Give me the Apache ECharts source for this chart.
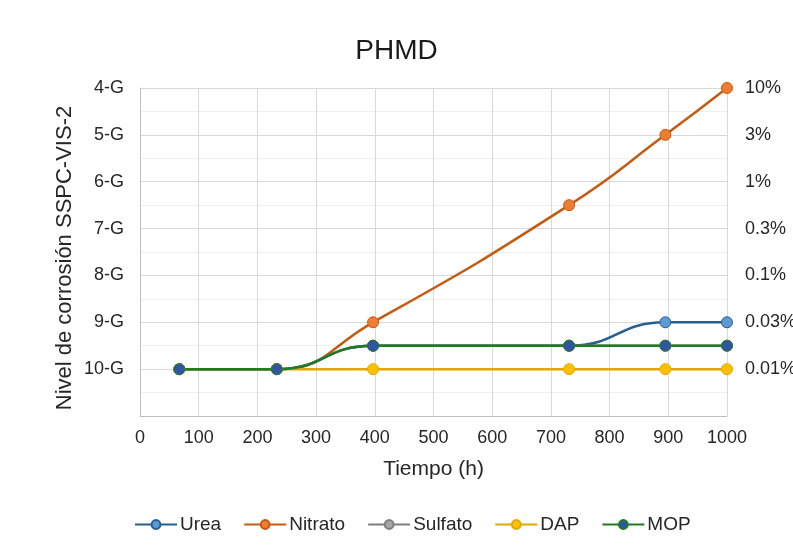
<!DOCTYPE html>
<html><head><meta charset="utf-8">
<script src="https://cdn.jsdelivr.net/npm/echarts@6/dist/echarts.min.js"></script>
<style>html,body{margin:0;padding:0;background:#fff}#c{width:793px;height:547px}</style>
</head><body><div id="c"></div>
<script>
const hours = [67, 233, 397, 731, 895, 1000];
const urea = [10, 10, 9.5, 9.5, 9, 9];
const nitrato = [10, 10, 9, 6.5, 5, 4];
const sulfato = [10, 10, 9.5, 9.5, 9.5, 9.5];
const dap = [10, 10, 10, 10, 10, 10];
const mop = [10, 10, 9.5, 9.5, 9.5, 9.5];
const gradeLabels = ['4-G','5-G','6-G','7-G','8-G','9-G','10-G',''];
const pctLabels = ['10%','3%','1%','0.3%','0.1%','0.03%','0.01%',''];
const xTicks = [0,100,200,300,400,500,600,700,800,900,1000];

const FONT = 'Liberation Sans, Arial, sans-serif';
function mk(name, vals, line, fill){
  return {
    name, type:'line', smooth:0.5,
    data: hours.map((h,i)=>[h, vals[i]]),
    symbol:'circle', symbolSize:11,
    lineStyle:{color:line, width:2.5},
    itemStyle:{color:fill, borderColor:line, borderWidth:1},
    emphasis:{disabled:true}
  };
}
const chart = echarts.init(document.getElementById('c'), null, {renderer:'canvas'});
chart.setOption({
  animation:false,
  backgroundColor:'#fff',
  textStyle:{fontFamily:FONT},
  title:{text:'PHMD', left:'center', top:32, textStyle:{fontFamily:FONT, fontSize:28, fontWeight:'normal', color:'#1a1a1a'}},
  legend:{top:510, left:129, itemWidth:42, itemHeight:11, itemGap:22,
    textStyle:{fontFamily:FONT, fontSize:19, color:'#262626', padding:[0,0,0,-2]}},
  grid:{left:140, right:66, top:88, bottom:131, outerBoundsMode:'none', containLabel:false},
  xAxis:{type:'value', min:xTicks[0], max:xTicks[xTicks.length-1], interval:100,
    name:'Tiempo (h)', nameLocation:'middle', nameGap:43, nameMoveOverlap:false,
    nameTextStyle:{fontFamily:FONT, fontSize:21, color:'#262626'},
    axisLine:{show:true, lineStyle:{color:'#bfbfbf'}}, axisTick:{show:false},
    axisLabel:{fontFamily:FONT, fontSize:18, color:'#262626', margin:13, formatter:v=>String(v)},
    splitLine:{show:true, lineStyle:{color:'#d9d9d9'}}},
  yAxis:[{type:'value', min:4, max:11, interval:1, inverse:true,
    name:'Nivel de corrosión SSPC-VIS-2', nameLocation:'middle', nameGap:64, nameMoveOverlap:false,
    nameTextStyle:{fontFamily:FONT, fontSize:22, color:'#262626', padding:[0,12,0,0]},
    axisLine:{show:true, lineStyle:{color:'#bfbfbf'}}, axisTick:{show:false},
    axisLabel:{fontFamily:FONT, fontSize:18, color:'#262626', margin:16, formatter:v=>gradeLabels[Math.round(v-4)]},
    splitLine:{show:true, lineStyle:{color:'#d9d9d9'}},
    minorTick:{show:false, splitNumber:2},
    minorSplitLine:{show:true, lineStyle:{color:'#eeeeee'}}},
   {type:'value', min:4, max:11, interval:1, inverse:true, position:'right',
    axisLine:{show:false}, axisTick:{show:false}, splitLine:{show:false},
    axisLabel:{fontFamily:FONT, fontSize:18, color:'#262626', margin:18, formatter:v=>pctLabels[Math.round(v-4)]}}],
  series:[
    mk('Urea', urea, '#255E91', '#5B9BD5'),
    mk('Nitrato', nitrato, '#C55A11', '#ED7D31'),
    mk('Sulfato', sulfato, '#7F7F7F', '#A5A5A5'),
    mk('DAP', dap, '#E0A800', '#FFC000'),
    mk('MOP', mop, '#1E7B22', '#2F55A4')
  ]
});
</script></body></html>
